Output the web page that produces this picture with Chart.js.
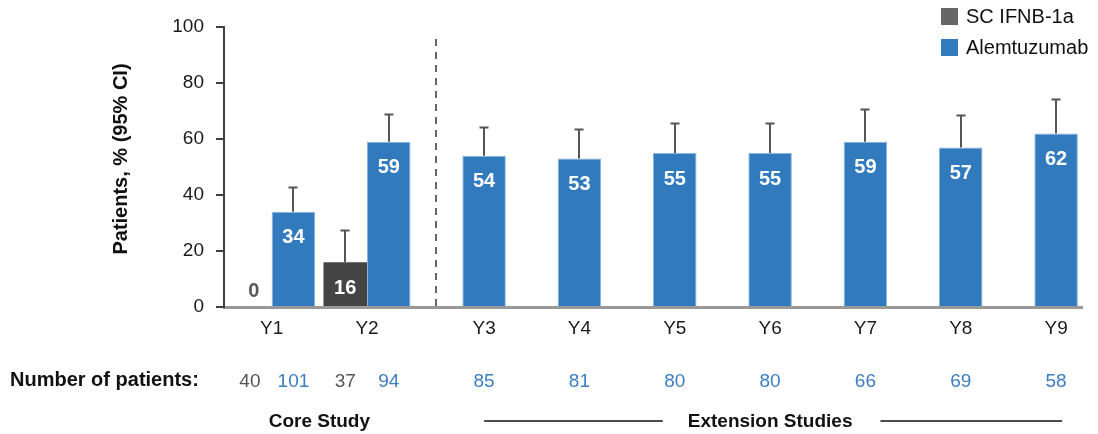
<!DOCTYPE html>
<html>
<head>
<meta charset="utf-8">
<script src="https://cdn.jsdelivr.net/npm/chart.js@4.4.1/dist/chart.umd.min.js"></script>
<style>
  html, body { margin: 0; padding: 0; background: #fff; }
  #wrap { width: 1098px; height: 434px; }
</style>
</head>
<body>
<div id="wrap"><canvas id="chart" width="1098" height="434"></canvas></div>
<script>
// ---- data ----
const years = ['Y1', 'Y2', 'Y3', 'Y4', 'Y5', 'Y6', 'Y7', 'Y8', 'Y9'];
const ifnbValues = [0, 16, null, null, null, null, null, null, null];
const alemValues = [34, 59, 54, 53, 55, 55, 59, 57, 62];
// upper 95% CI
const ifnbUpper = [null, 27.6, null, null, null, null, null, null, null];
const alemUpper = [43, 68.8, 64.4, 63.7, 65.7, 65.7, 70.7, 68.5, 74.3];
// number of patients
const ifnbN = [40, 37, null, null, null, null, null, null, null];
const alemN = [101, 94, 85, 81, 80, 80, 66, 69, 58];
const yTicks = [0, 20, 40, 60, 80, 100];

const FONT = '"Liberation Sans", Arial, Helvetica, sans-serif';
const GRAY = '#444444';
const BLUE = '#317ABD';

// ---- custom drawing: error bars, value labels, legend, footer ----
const extrasPlugin = {
    id: 'extras',
    afterDatasetsDraw(chart) {
        const ctx = chart.ctx;
        const y = chart.scales.y;
        const uppers = [ifnbUpper, alemUpper];
        const values = [ifnbValues, alemValues];

        // error bars (upper only)
        ctx.save();
        ctx.strokeStyle = '#555';
        ctx.lineWidth = 2;
        [0, 1].forEach(d => {
            chart.getDatasetMeta(d).data.forEach((bar, i) => {
                const up = uppers[d][i];
                if (up == null) return;
                const yTop = Math.round(y.getPixelForValue(up)) + 0.5;
                const x = Math.round(bar.x);
                ctx.beginPath();
                ctx.moveTo(x, bar.y);
                ctx.lineTo(x, yTop);
                ctx.moveTo(x - 4.5, yTop);
                ctx.lineTo(x + 4.5, yTop);
                ctx.stroke();
            });
        });
        ctx.restore();

        // value labels inside the bars
        ctx.save();
        ctx.font = 'bold 20px ' + FONT;
        ctx.textAlign = 'center';
        ctx.textBaseline = 'middle';
        [0, 1].forEach(d => {
            chart.getDatasetMeta(d).data.forEach((bar, i) => {
                const v = values[d][i];
                if (v == null) return;
                const ly = Math.min(bar.y + 26, bar.base - 16);
                ctx.fillStyle = v > 0 ? '#ffffff' : '#595959';
                ctx.fillText(String(v), bar.x + (v > 0 ? 0 : 4), ly);
            });
        });
        ctx.restore();
    },
    afterDraw(chart) {
        const ctx = chart.ctx;
        const area = chart.chartArea;
        const xs = chart.scales.x;
        const grayBars = chart.getDatasetMeta(0).data;
        const blueBars = chart.getDatasetMeta(1).data;

        // dashed divider between core and extension
        const divX = Math.round((blueBars[1].x + blueBars[1].width / 2 + blueBars[2].x - blueBars[2].width / 2) / 2);
        ctx.save();
        ctx.strokeStyle = '#666';
        ctx.lineWidth = 2;
        ctx.setLineDash([7, 6]);
        ctx.beginPath();
        ctx.moveTo(divX, area.top + 12);
        ctx.lineTo(divX, area.bottom);
        ctx.stroke();
        ctx.restore();

        // category labels: core years at category centre, extension under the blue bar
        ctx.save();
        ctx.font = '19px ' + FONT;
        ctx.fillStyle = '#1a1a1a';
        ctx.textAlign = 'center';
        ctx.textBaseline = 'middle';
        years.forEach((lab, i) => {
            const x = ifnbValues[i] != null ? xs.getPixelForValue(i) : blueBars[i].x;
            ctx.fillText(lab, x, area.bottom + 22);
        });

        // y axis title
        ctx.save();
        ctx.translate(121, 159);
        ctx.rotate(-Math.PI / 2);
        ctx.font = 'bold 20px ' + FONT;
        ctx.fillStyle = '#111';
        ctx.fillText('Patients, % (95% CI)', 0, 0);
        ctx.restore();

        // number of patients row
        ctx.textBaseline = 'alphabetic';
        ctx.textAlign = 'left';
        ctx.font = 'bold 20px ' + FONT;
        ctx.fillStyle = '#111';
        ctx.fillText('Number of patients:', 10, 386);
        ctx.textAlign = 'center';
        ctx.font = '19px ' + FONT;
        years.forEach((lab, i) => {
            if (ifnbN[i] != null) {
                ctx.fillStyle = '#555';
                ctx.fillText(String(ifnbN[i]), grayBars[i].x, 387);
            }
            if (alemN[i] != null) {
                ctx.fillStyle = '#3C7DC0';
                ctx.fillText(String(alemN[i]), blueBars[i].x, 387);
            }
        });

        // study labels
        ctx.font = 'bold 19px ' + FONT;
        ctx.fillStyle = '#111';
        const coreX = (xs.getPixelForValue(0) + xs.getPixelForValue(1)) / 2;
        ctx.fillText('Core Study', coreX, 427);
        const extStart = blueBars[2].x, extEnd = blueBars[8].x + 6;
        const extX = (blueBars[2].x + blueBars[8].x) / 2;
        const extLabel = 'Extension Studies';
        ctx.fillText(extLabel, extX, 427);
        const half = ctx.measureText(extLabel).width / 2;
        ctx.strokeStyle = '#111';
        ctx.lineWidth = 1.5;
        ctx.beginPath();
        ctx.moveTo(extStart, 421);
        ctx.lineTo(extX - half - 25, 421);
        ctx.moveTo(extX + half + 28, 421);
        ctx.lineTo(extEnd, 421);
        ctx.stroke();

        // legend
        const legend = [
            { label: 'SC IFNB-1a', color: '#666666' },
            { label: 'Alemtuzumab', color: BLUE }
        ];
        ctx.textAlign = 'left';
        ctx.textBaseline = 'middle';
        ctx.font = '20px ' + FONT;
        legend.forEach((item, k) => {
            const ly = 8 + k * 31;
            ctx.fillStyle = item.color;
            ctx.fillRect(941, ly, 17, 17);
            ctx.fillStyle = '#111';
            ctx.fillText(item.label, 966, ly + 9);
        });
        ctx.restore();
    }
};

const chart = new Chart(document.getElementById('chart'), {
    type: 'bar',
    data: {
        labels: years,
        datasets: [
            {
                label: 'SC IFNB-1a',
                data: ifnbValues,
                backgroundColor: GRAY,
                borderWidth: 0
            },
            {
                label: 'Alemtuzumab',
                data: alemValues,
                backgroundColor: BLUE,
                borderColor: '#8DB4DC',
                borderWidth: 1
            }
        ]
    },
    options: {
        responsive: false,
        animation: false,
        devicePixelRatio: 1,
        layout: { padding: { top: 27, right: 16, left: 0, bottom: 0 } },
        datasets: {
            bar: { categoryPercentage: 0.913, barPercentage: 1 }
        },
        plugins: {
            legend: { display: false },
            tooltip: { enabled: false }
        },
        scales: {
            x: {
                type: 'category',
                grid: { display: false },
                border: { display: true, color: '#999999', width: 3 },
                ticks: { display: false },
                afterFit(scale) { scale.height = 127; }
            },
            y: {
                min: 0,
                max: 100,
                afterBuildTicks(scale) { scale.ticks = yTicks.map(v => ({ value: v })); },
                grid: { drawOnChartArea: false, drawTicks: true, tickLength: 8, color: '#404040', lineWidth: 2 },
                border: { display: true, color: '#404040', width: 2 },
                ticks: {
                    padding: 12,
                    color: '#1a1a1a',
                    font: { family: FONT, size: 19 }
                },
                afterFit(scale) { scale.width = 224; }
            }
        }
    },
    plugins: [extrasPlugin]
});
</script>
</body>
</html>
